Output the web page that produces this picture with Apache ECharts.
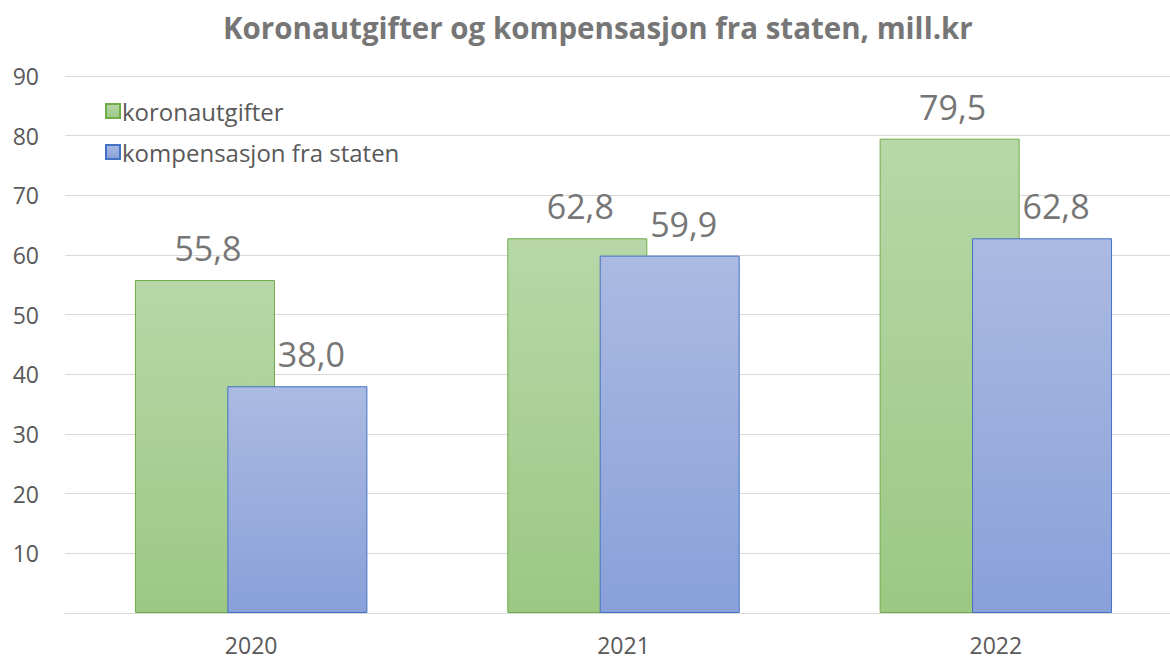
<!DOCTYPE html>
<html>
<head>
<meta charset="utf-8">
<script src="https://cdn.jsdelivr.net/npm/echarts@6/dist/echarts.min.js"></script>
<style>
  html, body { margin: 0; padding: 0; background: #fff; }
  #chart { width: 1170px; height: 660px; }
</style>
</head>
<body>
<div id="chart"></div>
<script>
var years = ['2020', '2021', '2022'];
var koronautgifter = [55.8, 62.8, 79.5];
var kompensasjon = [38.0, 59.9, 62.8];
var seriesNames = ['koronautgifter', 'kompensasjon fra staten'];

var font = '"Open Sans", "Liberation Sans", sans-serif';
var grey = '#595959';

function grad(top, bottom) {
  return { type: 'linear', x: 0, y: 0, x2: 0, y2: 1, colorStops: [{ offset: 0, color: top }, { offset: 1, color: bottom }] };
}
function fmt(p) { return p.value.toFixed(1).replace('.', ','); }

var chart = echarts.init(document.getElementById('chart'), null, { renderer: 'svg' });
chart.setOption({
  animation: false,
  textStyle: { fontFamily: font },
  title: {
    text: 'Koronautgifter og kompensasjon fra staten, mill.kr',
    left: 218,
    top: 7,
    textStyle: { color: '#767676', fontSize: 29.5, fontWeight: 'bold', fontFamily: font }
  },
  legend: {
    data: seriesNames,
    orient: 'vertical',
    left: 100,
    top: 94,
    icon: 'rect',
    itemWidth: 14,
    itemHeight: 14,
    itemGap: 17,
    textStyle: { color: grey, fontSize: 24, fontFamily: font, padding: [0, 0, 0, -3] }
  },
  grid: { left: 65, top: 76, width: 1117, height: 537, outerBoundsMode: 'none' },
  xAxis: {
    type: 'category',
    data: years,
    axisLine: { lineStyle: { color: '#d9d9d9', width: 1 } },
    axisTick: { show: false },
    axisLabel: { color: grey, fontSize: 23, lineHeight: 24, margin: 20, fontFamily: font }
  },
  yAxis: {
    type: 'value',
    min: 0,
    max: 90,
    interval: 10,
    axisLine: { show: false },
    axisTick: { show: false },
    splitLine: { lineStyle: { color: '#d9d9d9', width: 1 } },
    axisLabel: {
      color: grey, fontSize: 23, margin: 26, fontFamily: font,
      formatter: function(v) { return v === 0 ? '' : v; }
    }
  },
  series: [
    {
      name: seriesNames[0],
      type: 'bar',
      data: koronautgifter,
      barWidth: 140,
      barGap: '-34%',
      itemStyle: { color: grad('#b7d7a8', '#9cc883'), borderColor: '#70ad47', borderWidth: 1 },
      label: { show: true, position: 'top', distance: 15, offset: [3, 0], color: '#767676', fontSize: 34, fontFamily: font, formatter: fmt }
    },
    {
      name: seriesNames[1],
      type: 'bar',
      data: kompensasjon,
      barWidth: 140,
      itemStyle: { color: grad('#abbae2', '#89a0d9'), borderColor: '#4472c4', borderWidth: 1 },
      label: { show: true, position: 'top', distance: 15, offset: [14, 0], color: '#767676', fontSize: 34, fontFamily: font, formatter: fmt }
    }
  ]
});
window.addEventListener('resize', function() { chart.resize(); });
</script>
</body>
</html>
